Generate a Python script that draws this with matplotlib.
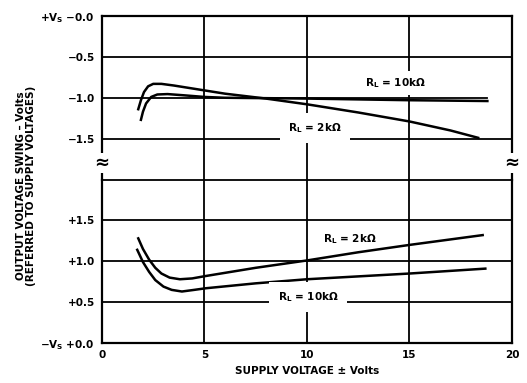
import matplotlib
matplotlib.use("Agg")
from matplotlib import pyplot as plt

plt.rcParams['font.family'] = ['DejaVu Sans']
plt.rcParams['font.weight'] = 'bold'
plt.rcParams['axes.labelweight'] = 'bold'
plt.rcParams['mathtext.default'] = 'bf'

# upper half: swing referred to +Vs (volts)
top_2k_x = [1.77, 1.9, 2.05, 2.25, 2.5, 2.9, 3.5, 4.5, 6.0, 8.0, 10.0, 12.5, 15.0, 17.0, 18.35]
top_2k_y = [-1.14, -1.03, -0.93, -0.86, -0.83, -0.83, -0.85, -0.89, -0.95, -1.01, -1.08,
            -1.18, -1.29, -1.40, -1.49]
top_10k_x = [1.9, 2.0, 2.15, 2.4, 2.7, 3.2, 4.0, 5.0, 6.0, 10.0, 15.0, 18.8]
top_10k_y = [-1.27, -1.17, -1.07, -0.99, -0.96, -0.955, -0.97, -0.99, -1.00, -1.01, -1.03, -1.04]

# lower half: swing referred to -Vs (volts)
bot_2k_x = [1.77, 2.0, 2.3, 2.6, 2.9, 3.3, 3.8, 4.4, 5.07, 7.5, 10.0, 12.5, 15.0, 18.57]
bot_2k_y = [1.28, 1.15, 1.02, 0.92, 0.85, 0.80, 0.78, 0.79, 0.82, 0.92, 1.01, 1.11, 1.20, 1.32]
bot_10k_x = [1.72, 2.0, 2.3, 2.6, 3.0, 3.4, 3.9, 4.5, 5.07, 7.5, 10.0, 15.0, 18.7]
bot_10k_y = [1.14, 0.99, 0.87, 0.77, 0.69, 0.65, 0.63, 0.65, 0.67, 0.73, 0.78, 0.85, 0.91]

x_ticks = [0, 5, 10, 15, 20]
top_ticks = [0.0, -0.5, -1.0, -1.5]
top_labels = ['+V$_S$ \u22120.0', '\u22120.5', '\u22121.0', '\u22121.5']
bot_ticks = [0.0, 0.5, 1.0, 1.5]
bot_labels = ['\u2212V$_S$ +0.0', '+0.5', '+1.0', '+1.5']

fig = plt.figure(figsize=(5.27, 3.83), dpi=100)
ax_top = fig.add_axes([0.1935, 0.5313, 0.778, 0.4269])
ax_bot = fig.add_axes([0.1935, 0.1044, 0.778, 0.4269])

fs = 7.5
gw = 1.3

for ax in (ax_top, ax_bot):
    ax.set_xlim(0, 20)
    ax.set_xticks(x_ticks)
    for s in ax.spines.values():
        s.set_linewidth(1.6)
    ax.tick_params(length=0, pad=5, labelsize=fs)
    for xv in x_ticks[1:-1]:
        ax.axvline(xv, color='black', lw=gw, zorder=1)

ax_top.set_ylim(-2.0, 0.0)
ax_top.set_yticks(top_ticks)
ax_top.set_yticklabels(top_labels)
ax_top.set_xticklabels([])
ax_top.spines['bottom'].set_visible(False)
for yv in top_ticks[1:]:
    xmax = 18.8 / 20 if yv == -1.0 else 1
    ax_top.axhline(yv, xmax=xmax, color='black', lw=gw, zorder=1)

ax_bot.set_ylim(0.0, 2.0)
ax_bot.set_yticks(bot_ticks)
ax_bot.set_yticklabels(bot_labels)
ax_bot.set_xticklabels([str(v) for v in x_ticks])
ax_bot.spines['top'].set_linewidth(gw)
for yv in bot_ticks[1:]:
    ax_bot.axhline(yv, color='black', lw=gw, zorder=1)

ax_top.plot(top_2k_x, top_2k_y, color='black', lw=1.8, zorder=3)
ax_top.plot(top_10k_x, top_10k_y, color='black', lw=1.8, zorder=3)
ax_bot.plot(bot_2k_x, bot_2k_y, color='black', lw=1.8, zorder=3)
ax_bot.plot(bot_10k_x, bot_10k_y, color='black', lw=1.8, zorder=3)

box = dict(facecolor='white', edgecolor='none', pad=4)
ax_top.text(14.3, -0.82, 'R$_L$ = 10k\u03a9', fontsize=fs, ha='center', va='center',
            bbox=box, zorder=4)
ax_top.text(10.4, -1.37, 'R$_L$ = 2k\u03a9', fontsize=fs, ha='center', va='center',
            bbox=dict(facecolor='white', edgecolor='none', pad=6), zorder=4)
ax_bot.text(12.1, 1.27, 'R$_L$ = 2k\u03a9', fontsize=fs, ha='center', va='center', zorder=4)
ax_bot.text(10.05, 0.56, 'R$_L$ = 10k\u03a9', fontsize=fs, ha='center', va='center',
            bbox=dict(facecolor='white', edgecolor='none', pad=6), zorder=4)

# axis break marks
for xv in (0, 20):
    ax_top.text(xv, -1.8, '\u2248', fontsize=13, ha='center', va='center', clip_on=False,
                bbox=dict(facecolor='white', edgecolor='none', pad=0.5), zorder=5)

ax_bot.set_xlabel('SUPPLY VOLTAGE \u00b1 Volts', fontsize=fs, labelpad=4)
fig.text(0.05, 0.515, 'OUTPUT VOLTAGE SWING \u2013 Volts\n(REFERRED TO SUPPLY VOLTAGES)',
         rotation=90, ha='center', va='center', fontsize=fs, multialignment='center',
         linespacing=1.0)

fig.savefig('out.png', dpi=100)
